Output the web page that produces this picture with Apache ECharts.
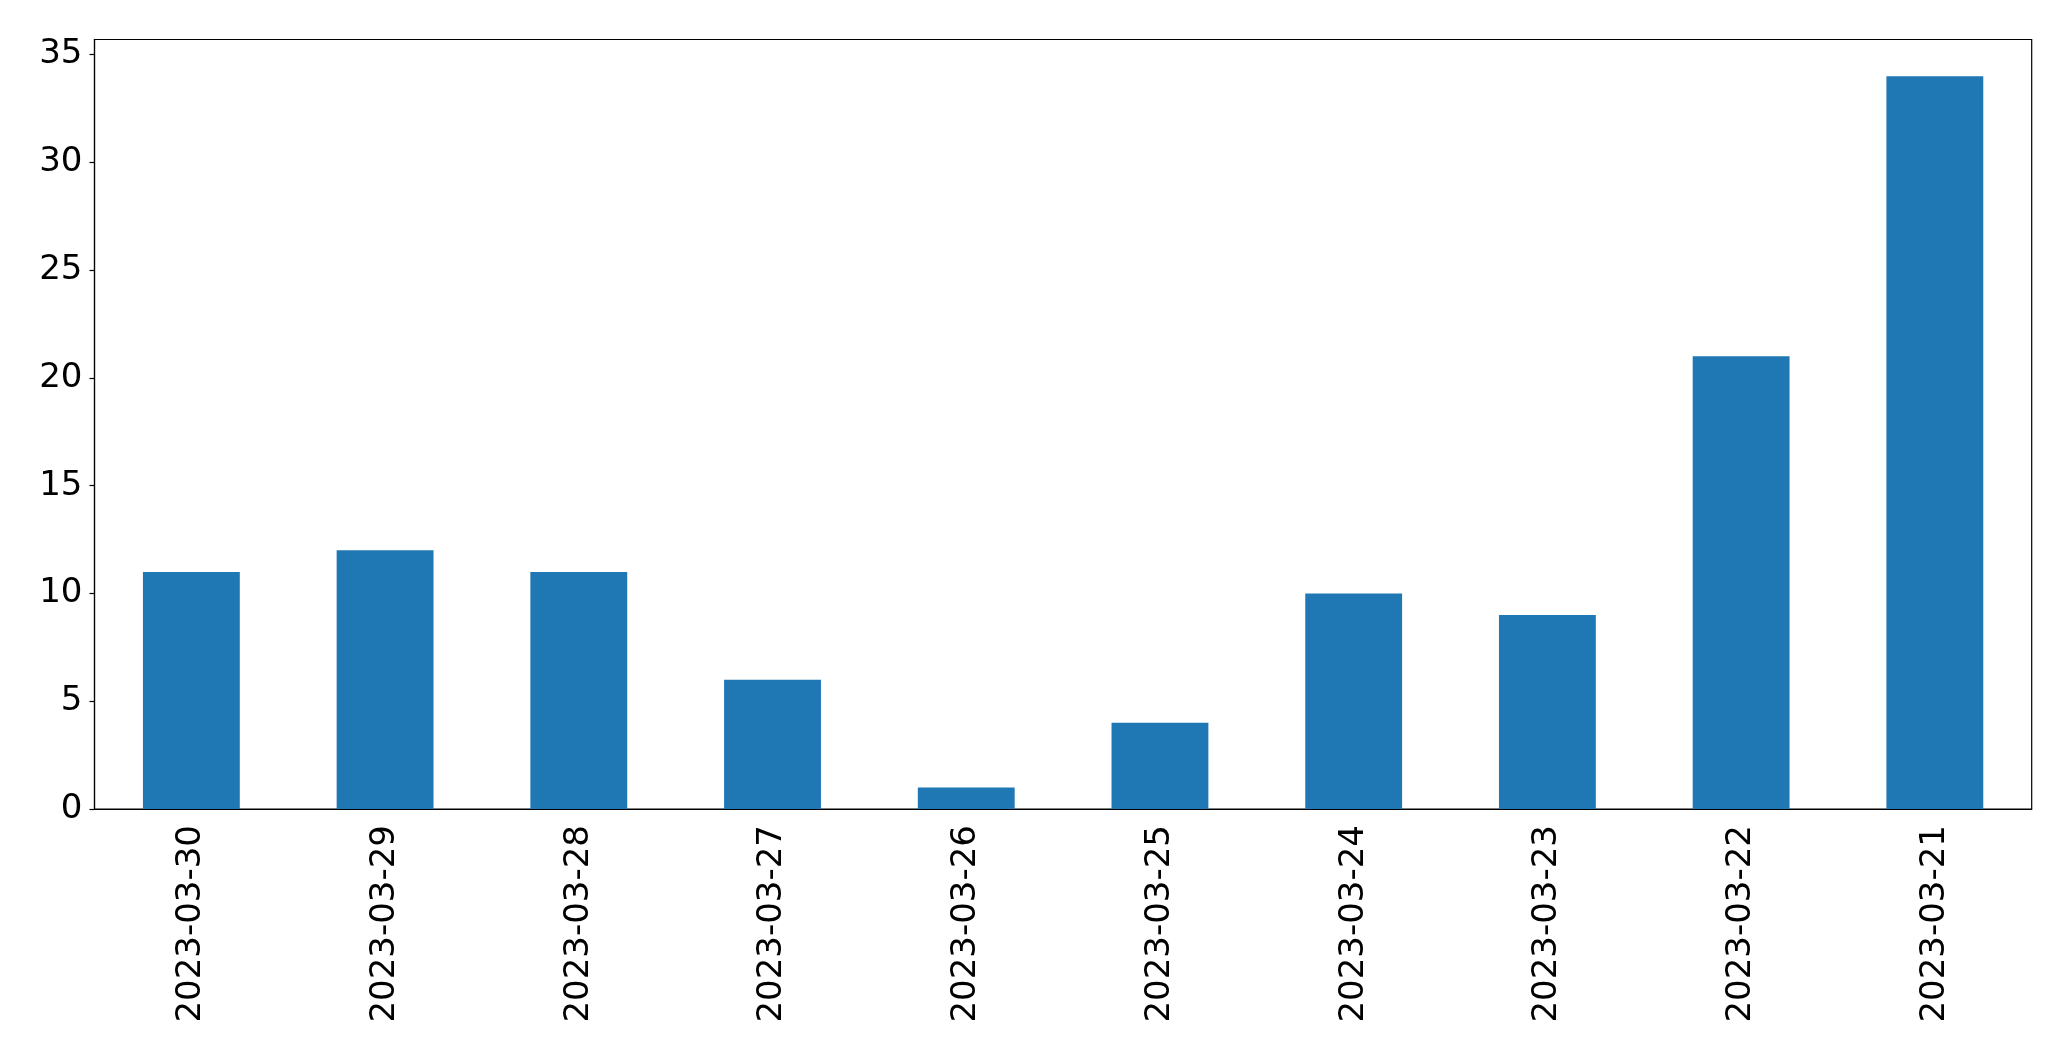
<!DOCTYPE html>
<html>
<head>
<meta charset="utf-8">
<script src="https://cdn.jsdelivr.net/npm/echarts@6/dist/echarts.min.js"></script>
<style>
html, body { margin: 0; padding: 0; background: #fff; }
#main { width: 2071px; height: 1061px; }
</style>
</head>
<body>
<div id="main"></div>
<script>
var dates = [ '2023-03-30', '2023-03-29', '2023-03-28', '2023-03-27', '2023-03-26',
		'2023-03-25', '2023-03-24', '2023-03-23', '2023-03-22', '2023-03-21' ];
var counts = [ 11, 12, 11, 6, 1, 4, 10, 9, 21, 34 ];
var yTicks = [ 0, 5, 10, 15, 20, 25, 30, 35 ];

var chart = echarts.init(document.getElementById('main'));
var option = {
	animation : false,
	textStyle : {
		fontFamily : 'DejaVu Sans'
	},
	grid : {
		left : 94.5,
		top : 39.5,
		right : 39.3,
		bottom : 252,
		show : true,
		borderColor : '#000',
		borderWidth : 1.2,
		containLabel : false
	},
	xAxis : {
		type : 'category',
		data : dates,
		axisLine : {
			lineStyle : { color : '#000', width : 1.2 }
		},
		axisTick : {
			alignWithLabel : true,
			length : 5,
			lineStyle : { color : '#000', width : 1.2 }
		},
		axisLabel : {
			interval : 0,
			rotate : 90,
			margin : 16,
			color : '#000',
			fontSize : 34
		}
	},
	yAxis : {
		type : 'value',
		min : 0,
		max : 35.7,
		splitLine : { show : false },
		axisLine : {
			show : true,
			lineStyle : { color : '#000', width : 1.2 }
		},
		axisTick : {
			show : true,
			length : 5,
			customValues : yTicks,
			lineStyle : { color : '#000', width : 1.2 }
		},
		axisLabel : {
			margin : 12,
			color : '#000',
			fontSize : 34,
			customValues : yTicks
		}
	},
	series : [ {
		type : 'bar',
		data : counts,
		barWidth : '50%',
		itemStyle : { color : '#1f77b4' }
	} ]
};
chart.setOption(option);
</script>
</body>
</html>
